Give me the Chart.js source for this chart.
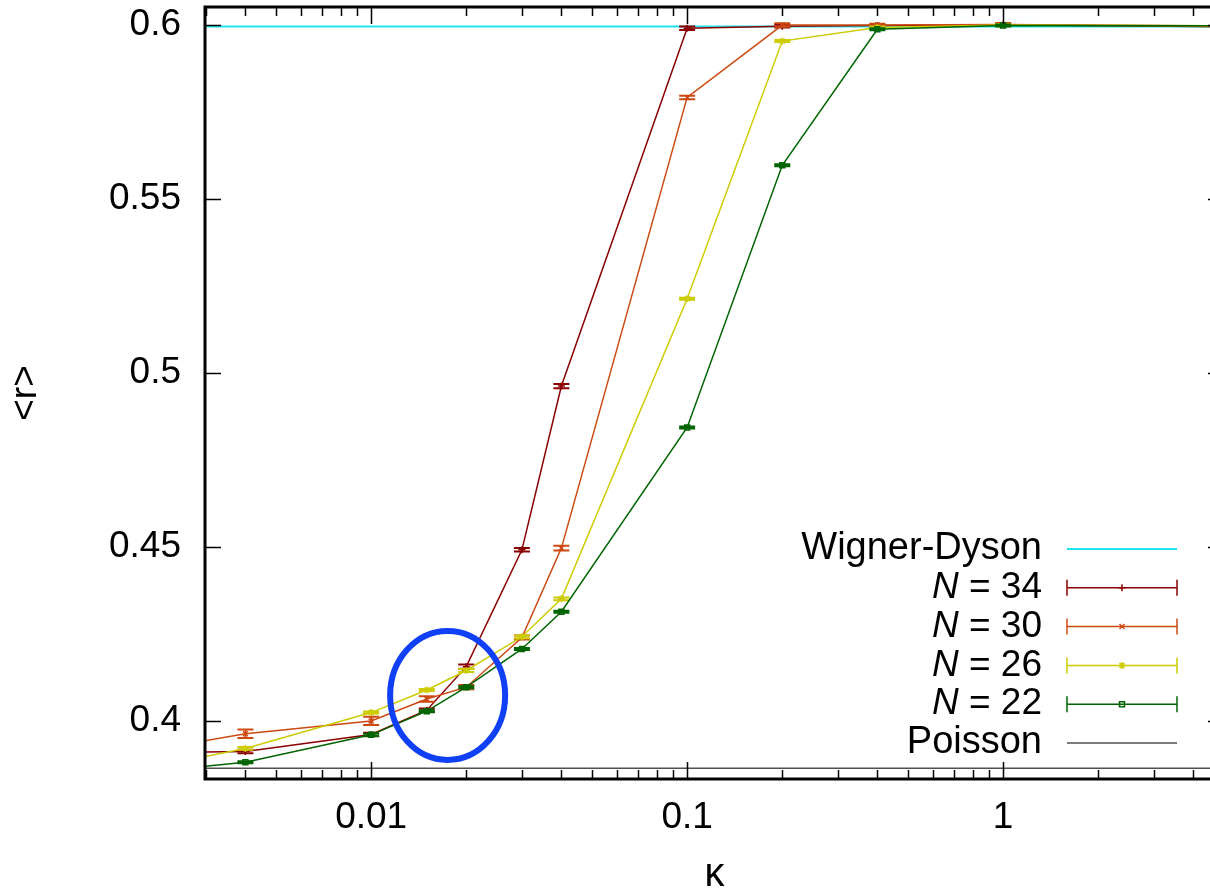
<!DOCTYPE html>
<html>
<head>
<meta charset="utf-8">
<script src="https://cdn.jsdelivr.net/npm/chart.js@4.4.0/dist/chart.umd.min.js"></script>
<style>
html, body { margin: 0; padding: 0; overflow: hidden; background: #ffffff; }
#chart_wrap { width: 1240px; height: 915px; }
</style>
</head>
<body>
<div id="chart_wrap"><canvas id="ratioChart" width="1240" height="915"></canvas></div>
<script>
// kappa grid; first and last points sit outside the visible x range
var kappaArr = [0.002, 0.004, 0.01, 0.015, 0.02, 0.03, 0.04, 0.1, 0.2, 0.4, 1, 10];

// mean gap ratio <r> per system size, with half-width of the error bars
var rN34Arr   = [0.3908, 0.3911, 0.3960, 0.4030, 0.4155, 0.4491, 0.4962, 0.5991, 0.5997, 0.5999, 0.6001, 0.5993];
var errN34Arr = [0, 0.0005, 0.0005, 0.0005, 0.0006, 0.0005, 0.0006, 0.0005, 0.0004, 0.0003, 0.0003, 0];
var rN30Arr   = [0.3915, 0.3962, 0.3999, 0.4062, 0.4096, 0.4239, 0.4496, 0.5792, 0.6000, 0.6000, 0.6002, 0.5995];
var errN30Arr = [0, 0.0012, 0.0012, 0.0008, 0.0006, 0.0006, 0.0007, 0.0005, 0.0005, 0.0004, 0.0004, 0];
var rN26Arr   = [0.3865, 0.3920, 0.4023, 0.4088, 0.4144, 0.4241, 0.4350, 0.5213, 0.5954, 0.5993, 0.6000, 0.5997];
var errN26Arr = [0, 0.0004, 0.0003, 0.0003, 0.0004, 0.0004, 0.0004, 0.0003, 0.0003, 0.0003, 0.0003, 0];
var rN22Arr   = [0.3854, 0.3880, 0.3959, 0.4027, 0.4096, 0.4206, 0.4313, 0.4843, 0.5597, 0.5988, 0.5999, 0.5998];
var errN22Arr = [0, 0.0003, 0.0003, 0.0003, 0.0003, 0.0003, 0.0003, 0.0003, 0.0003, 0.0003, 0.0003, 0];

// reference values: GUE (Wigner-Dyson) and Poisson statistics
var wignerDysonR = 0.5996;
var poissonR = 0.3863;
var limitKappaArr = [0.001, 10];

var xMajorTickArr = [0.01, 0.1, 1];
var yTickArr = [0.4, 0.45, 0.5, 0.55, 0.6];

var fontFamily = '"Liberation Sans", Arial, Helvetica, sans-serif';
var fontSize = 37;

function toPoints(xArr, yArr){
	var pts = [];
	for(var i = 0; i < xArr.length; i++){ pts.push({x: xArr[i], y: yArr[i]}); }
	return pts;
}
function constPoints(xArr, val){
	var pts = [];
	for(var i = 0; i < xArr.length; i++){ pts.push({x: xArr[i], y: val}); }
	return pts;
}

// minor + major log ticks between the axis limits
function logTicks(min, max){
	var arr = [];
	for(var d = -4; d <= 1; d++){
		for(var m = 1; m <= 9; m++){
			var v = m * Math.pow(10, d);
			if(v >= min * 0.999 && v <= max * 1.001){ arr.push(v); }
		}
	}
	return arr;
}
function isMajor(v){
	var l = Math.log10(v);
	return Math.abs(l - Math.round(l)) < 1e-6;
}

var xMin = 0.00298, xMax = 5.0;
var yMin = 0.3832, yMax = 0.6052;

// error bars drawn right after each dataset so the stacking follows the lines
var errorBarPlugin = {
	id: 'errorBars',
	afterDatasetDraw: function(chart, args){
		var ds = chart.data.datasets[args.index];
		if(!ds.errors){ return; }
		var ctx = chart.ctx, a = chart.chartArea;
		var xs = chart.scales.x, ys = chart.scales.y;
		ctx.save();
		ctx.beginPath();
		ctx.rect(a.left, a.top, a.right - a.left, a.bottom - a.top);
		ctx.clip();
		ctx.strokeStyle = ds.borderColor;
		ctx.lineWidth = 2;
		for(var i = 0; i < ds.data.length; i++){
			var e = ds.errors[i];
			if(!e){ continue; }
			var px = xs.getPixelForValue(ds.data[i].x);
			var pTop = ys.getPixelForValue(ds.data[i].y + e);
			var pBot = ys.getPixelForValue(ds.data[i].y - e);
			ctx.beginPath();
			ctx.moveTo(px, pTop); ctx.lineTo(px, pBot);
			ctx.moveTo(px - 8, pTop); ctx.lineTo(px + 8, pTop);
			ctx.moveTo(px - 8, pBot); ctx.lineTo(px + 8, pBot);
			ctx.stroke();
		}
		ctx.restore();
	}
};

// gnuplot-like frame with inward ticks, key and the highlighted crossing region
var framePlugin = {
	id: 'frameKey',
	afterDatasetsDraw: function(chart){
		var ctx = chart.ctx, a = chart.chartArea;
		var xs = chart.scales.x, ys = chart.scales.y;
		ctx.save();

		// crossing region marker
		var cx = xs.getPixelForValue(0.01746);
		var cy = ys.getPixelForValue(0.40724);
		ctx.beginPath();
		ctx.ellipse(cx, cy, 57.5, 64.5, 0, 0, Math.PI * 2);
		ctx.strokeStyle = '#1040f5';
		ctx.lineWidth = 6;
		ctx.stroke();

		// ticks
		ctx.strokeStyle = '#000000';
		ctx.lineWidth = 1.5;
		ctx.beginPath();
		var xt = logTicks(xMin, xMax);
		for(var i = 0; i < xt.length; i++){
			var px = Math.round(xs.getPixelForValue(xt[i])) + 0.5;
			var len = isMajor(xt[i]) ? 17 : 9;
			ctx.moveTo(px, a.bottom); ctx.lineTo(px, a.bottom - len);
			ctx.moveTo(px, a.top); ctx.lineTo(px, a.top + len);
		}
		for(var j = 0; j < yTickArr.length; j++){
			var py = Math.round(ys.getPixelForValue(yTickArr[j])) + 0.5;
			ctx.moveTo(a.left, py); ctx.lineTo(a.left + 16, py);
			ctx.moveTo(a.right, py); ctx.lineTo(a.right - 16, py);
		}
		ctx.stroke();

		// frame
		ctx.lineWidth = 3;
		ctx.strokeRect(a.left, a.top, a.right - a.left, a.bottom - a.top);

		// key, text right-aligned with a sample to its right
		var textRight = a.right - 182;
		var sampleL = a.right - 157, sampleR = a.right - 47;
		var rowH = 38.8;
		var dsArr = chart.data.datasets;
		var rowY0 = a.bottom - 36 - rowH * (dsArr.length - 1);
		ctx.textBaseline = 'middle';
		ctx.textAlign = 'right';
		for(var k = 0; k < dsArr.length; k++){
			var ds = dsArr[k];
			var y = rowY0 + rowH * k;
			ctx.fillStyle = '#000000';
			var lbl = ds.label;
			if(lbl.indexOf('N') === 0){
				var rest = lbl.substring(1);
				ctx.font = fontSize + 'px ' + fontFamily;
				var w = ctx.measureText(rest).width;
				ctx.fillText(rest, textRight, y);
				ctx.font = 'italic ' + fontSize + 'px ' + fontFamily;
				ctx.fillText('N', textRight - w, y);
			}else{
				ctx.font = '38px ' + fontFamily;
				ctx.fillText(lbl, textRight, y);
			}
			ctx.strokeStyle = ds.borderColor;
			ctx.lineWidth = ds.borderWidth;
			ctx.beginPath();
			ctx.moveTo(sampleL, y); ctx.lineTo(sampleR, y);
			if(ds.errors){
				ctx.moveTo(sampleL, y - 8); ctx.lineTo(sampleL, y + 8);
				ctx.moveTo(sampleR, y - 8); ctx.lineTo(sampleR, y + 8);
			}
			ctx.stroke();
			if(ds.pointRadius > 0){
				ctx.fillStyle = ds.pointBackgroundColor;
				ctx.strokeStyle = ds.borderColor;
				ctx.lineWidth = ds.pointBorderWidth;
				Chart.helpers.drawPoint(ctx, {
					pointStyle: ds.pointStyle, radius: ds.pointRadius, rotation: 0, borderWidth: ds.pointBorderWidth
				}, (sampleL + sampleR) / 2, y);
			}
		}
		ctx.restore();
	}
};

function sizeSeries(label, color, style, yArr, errArr, order){
	return {
		label: label,
		data: toPoints(kappaArr, yArr),
		errors: errArr,
		borderColor: color,
		backgroundColor: color,
		borderWidth: 1.5,
		pointStyle: style,
		pointRadius: 3.5,
		pointBorderWidth: 1.5,
		pointBackgroundColor: style === 'rect' ? 'rgba(0,0,0,0)' : color,
		pointBorderColor: color,
		tension: 0,
		clip: 0,
		order: order
	};
}

var ctx = document.getElementById('ratioChart');
var ratioChart = new Chart(ctx, {
	type: 'line',
	data: {
		datasets: [
			{
				label: 'Wigner-Dyson', data: constPoints(limitKappaArr, wignerDysonR),
				borderColor: '#1ee6ee', borderWidth: 2, pointRadius: 0, clip: 0, order: 6
			},
			sizeSeries('N = 34', '#8b0000', 'cross', rN34Arr, errN34Arr, 5),
			sizeSeries('N = 30', '#cc4a12', 'crossRot', rN30Arr, errN30Arr, 4),
			sizeSeries('N = 26', '#cccc00', 'star', rN26Arr, errN26Arr, 3),
			sizeSeries('N = 22', '#006400', 'rect', rN22Arr, errN22Arr, 2),
			{
				label: 'Poisson', data: constPoints(limitKappaArr, poissonR),
				borderColor: '#505050', borderWidth: 1.5, pointRadius: 0, clip: 0, order: 1
			}
		]
	},
	options: {
		responsive: false,
		animation: false,
		devicePixelRatio: 1,
		layout: { padding: { top: 7, right: 16, left: 0, bottom: 0 } },
		scales: {
			x: {
				type: 'logarithmic',
				min: xMin, max: xMax,
				grid: { display: false, drawTicks: false },
				border: { display: false },
				afterBuildTicks: function(scale){
					scale.ticks = logTicks(xMin, xMax).map(function(v){ return { value: v }; });
				},
				afterFit: function(scale){
					scale.height = 136;
					scale.paddingLeft = 0; scale.paddingRight = 0;
				},
				ticks: {
					autoSkip: false, maxRotation: 0, padding: 17, color: '#000000',
					font: { family: fontFamily, size: fontSize },
					callback: function(v){
						for(var i = 0; i < xMajorTickArr.length; i++){
							if(Math.abs(v / xMajorTickArr[i] - 1) < 1e-6){ return String(xMajorTickArr[i]); }
						}
						return '';
					}
				},
				title: {
					display: true, text: 'κ', color: '#000000',
					font: { family: fontFamily, size: 40 },
					padding: { top: 0, bottom: 16 }
				}
			},
			y: {
				type: 'linear',
				min: yMin, max: yMax,
				grid: { display: false, drawTicks: false },
				border: { display: false },
				afterBuildTicks: function(scale){
					scale.ticks = yTickArr.map(function(v){ return { value: v }; });
				},
				afterFit: function(scale){
					scale.width = 205;
					scale.paddingTop = 0; scale.paddingBottom = 0;
				},
				ticks: {
					padding: 24, color: '#000000',
					font: { family: fontFamily, size: fontSize },
					callback: function(v){ return String(+v.toFixed(2)); }
				},
				title: {
					display: true, text: '<r>', color: '#000000',
					font: { family: fontFamily, size: fontSize },
					padding: { top: 4, bottom: 0 }
				}
			}
		},
		plugins: {
			legend: { display: false },
			tooltip: { enabled: false }
		}
	},
	plugins: [errorBarPlugin, framePlugin]
});
</script>
</body>
</html>
